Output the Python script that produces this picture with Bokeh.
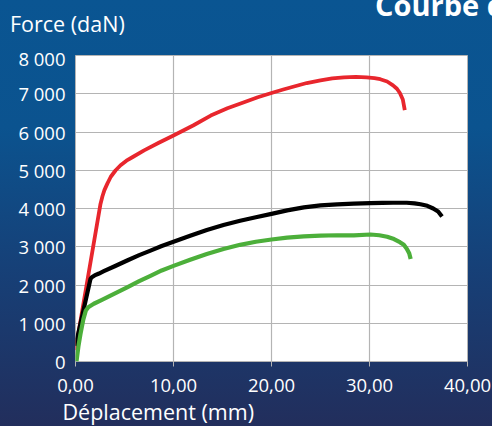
from bokeh.plotting import figure
from bokeh.models import Range1d, FixedTicker, Title, Div
from bokeh.layouts import column
from bokeh.embed import file_html
from bokeh.resources import INLINE

# Data
x_ticks = [0, 10, 20, 30, 40]
x_tick_labels = ["0,00", "10,00", "20,00", "30,00", "40,00"]
y_ticks = [0, 1000, 2000, 3000, 4000, 5000, 6000, 7000, 8000]
y_tick_labels = ["0", "1 000", "2 000", "3 000", "4 000", "5 000", "6 000", "7 000", "8 000"]

red_x = [0.0, 2.55, 2.75, 2.95, 3.25, 3.6, 4.1, 4.6, 5.2, 5.8, 7.0, 8.5, 10.0, 12.0, 13.8, 15.5, 17.2, 18.6, 20.0, 21.2, 22.3, 23.6, 25.0, 26.2, 27.4, 28.6, 29.7, 30.5, 31.1, 31.8, 32.4, 32.8, 33.1, 33.4, 33.6]
red_y = [300, 4120, 4320, 4480, 4650, 4830, 5000, 5130, 5250, 5340, 5520, 5720, 5910, 6170, 6430, 6620, 6780, 6910, 7020, 7110, 7190, 7280, 7350, 7400, 7430, 7440, 7430, 7410, 7380, 7320, 7220, 7130, 7020, 6850, 6570]

black_x = [0.0, 1.53, 1.7, 1.95, 2.4, 2.89, 4.0, 5.27, 6.5, 7.65, 8.8, 10.0, 11.7, 13.4, 15.1, 16.8, 18.4, 20.0, 21.6, 23.3, 25.0, 26.7, 28.4, 30.1, 31.3, 32.4, 33.8, 34.6, 35.2, 35.9, 36.5, 37.0, 37.4]
black_y = [410, 2160, 2210, 2250, 2300, 2360, 2490, 2640, 2780, 2900, 3020, 3130, 3290, 3440, 3570, 3680, 3770, 3860, 3950, 4030, 4080, 4110, 4130, 4140, 4145, 4150, 4150, 4135, 4110, 4070, 4000, 3920, 3790]

green_x = [0.1, 0.3, 0.51, 0.8, 1.05, 1.3, 1.87, 2.7, 3.57, 5.27, 6.5, 7.65, 8.8, 10.0, 11.7, 13.4, 15.1, 16.8, 18.4, 20.0, 21.6, 23.3, 25.0, 26.7, 28.4, 30.1, 31.0, 31.8, 32.5, 33.1, 33.5, 33.8, 34.05, 34.2]
green_y = [0, 400, 720, 1100, 1330, 1420, 1510, 1610, 1720, 1940, 2100, 2240, 2380, 2500, 2660, 2810, 2940, 3050, 3130, 3190, 3240, 3270, 3290, 3300, 3295, 3320, 3300, 3260, 3200, 3120, 3050, 2950, 2830, 2680]

title_text = "Courbe de traction"
y_title = "Force (daN)"
x_title = "Déplacement (mm)"

W, H = 492, 426
HEADER_H = 45

p = figure(width=W, height=H - HEADER_H, output_backend="svg", toolbar_location=None,
           x_range=Range1d(0, 40), y_range=Range1d(0, 8000),
           min_border_left=75, min_border_right=25, min_border_top=10, min_border_bottom=65)
p.border_fill_color = None
p.background_fill_color = "white"
p.outline_line_color = "#b4b4b4"
p.grid.grid_line_color = "#b4b4b4"
p.grid.grid_line_width = 1.2

p.xaxis.ticker = FixedTicker(ticks=x_ticks)
p.xaxis.major_label_overrides = {t: l for t, l in zip(x_ticks, x_tick_labels)}
p.yaxis.ticker = FixedTicker(ticks=y_ticks)
p.yaxis.major_label_overrides = {t: l for t, l in zip(y_ticks, y_tick_labels)}
p.xgrid.ticker = FixedTicker(ticks=x_ticks)
p.ygrid.ticker = FixedTicker(ticks=y_ticks)

for ax in (p.xaxis, p.yaxis):
    ax.axis_line_color = None
    ax.minor_tick_line_color = None
    ax.major_label_text_color = "white"
    ax.major_label_text_font = "Open Sans"
    ax.major_label_text_font_size = "18.5px"
p.xaxis.major_tick_line_color = "#b4b4b4"
p.xaxis.major_tick_in = 0
p.xaxis.major_tick_out = 5
p.xaxis.major_label_standoff = 12
p.yaxis.major_tick_line_color = None
p.yaxis.major_tick_out = 0
p.yaxis.major_tick_in = 0
p.yaxis.major_label_standoff = 10

p.line(red_x, red_y, line_color="#e8262d", line_width=3.8, line_join="round")
p.line(black_x, black_y, line_color="#000000", line_width=4.2, line_join="round")
p.line(green_x, green_y, line_color="#4caf3a", line_width=4.2, line_join="round")

p.add_layout(Title(text=x_title, align="left", offset=-13, text_color="white",
                   text_font="Open Sans", text_font_style="normal", text_font_size="21.5px",
                   standoff=1), "below")

header_html = (
    '<div style="position:relative;width:%dpx;height:%dpx;overflow:hidden;color:white;'
    'font-family:\'Open Sans\',sans-serif;">'
    '<span style="position:absolute;left:375px;top:-10px;font-size:29px;font-weight:700;'
    'line-height:29px;white-space:nowrap;">%s</span>'
    '<span style="position:absolute;left:10px;top:13px;font-size:21.5px;'
    'line-height:21.5px;white-space:nowrap;">%s</span></div>'
) % (W, HEADER_H, title_text, y_title)
header = Div(text=header_html, width=W, height=HEADER_H, margin=0)

layout = column(header, p, spacing=0)

html = file_html(layout, INLINE, title=title_text)
css = ("<style>html,body{margin:0;padding:0;overflow:hidden;min-height:100%;"
       "background:linear-gradient(to bottom, #0a5592 0%, #0b538f 30%, #173f76 65%, #222e5c 100%) fixed;}</style>")
html = html.replace("</head>", css + "</head>", 1)
open("out.html", "w").write(html)
